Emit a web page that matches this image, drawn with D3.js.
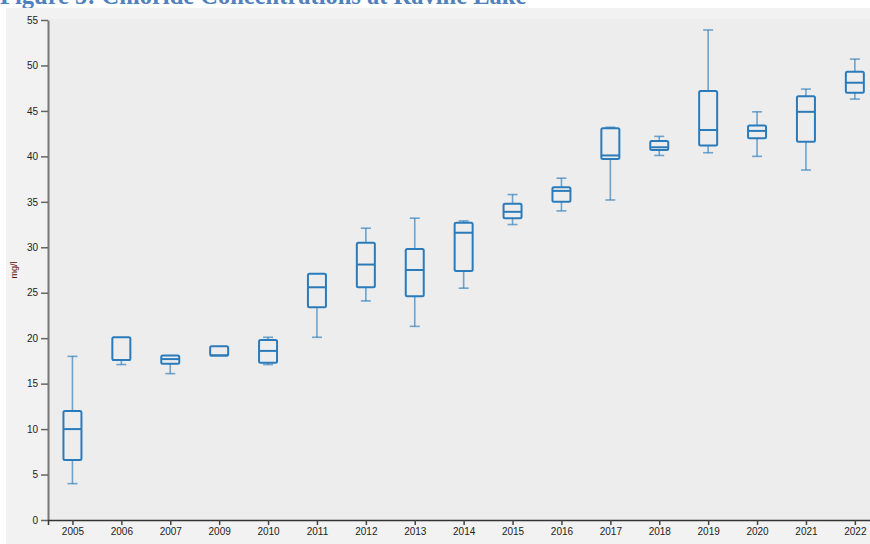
<!DOCTYPE html>
<html>
<head>
<meta charset="utf-8">
<script src="https://cdn.jsdelivr.net/npm/d3@7.9.0/dist/d3.min.js"></script>
<style>
  body { margin: 0; background: #fff; }
  svg { display: block; }
  .tick text { font-family: Arial, "Liberation Sans", sans-serif; font-size: 10px; fill: #222; }
</style>
</head>
<body>
<svg id="chart" width="870" height="544"></svg>
<script>
// Chloride box plot values (mg/l)
const years   = ['2005','2006','2007','2009','2010','2011','2012','2013','2014','2015','2016','2017','2018','2019','2020','2021','2022'];
const mins    = [4.0, 17.1, 16.1, 18.1, 17.1, 20.1, 24.1, 21.3, 25.5, 32.5, 34.0, 35.2, 40.1, 40.4, 40.0, 38.5, 46.3];
const q1s     = [6.6, 17.6, 17.2, 18.1, 17.3, 23.4, 25.6, 24.6, 27.4, 33.2, 35.0, 39.7, 40.7, 41.2, 42.0, 41.6, 47.0];
const medians = [10.0, 17.6, 17.7, 18.1, 18.6, 25.6, 28.1, 27.5, 31.6, 33.9, 36.2, 40.1, 41.0, 42.9, 42.8, 44.9, 48.1];
const q3s     = [12.0, 20.1, 18.1, 19.1, 19.8, 27.1, 30.5, 29.8, 32.7, 34.8, 36.6, 43.1, 41.7, 47.2, 43.4, 46.6, 49.3];
const maxs    = [18.0, 20.1, 18.1, 19.1, 20.1, 27.1, 32.1, 33.2, 32.9, 35.8, 37.6, 43.2, 42.2, 53.9, 44.9, 47.4, 50.7];
const yTicks  = d3.range(0, 56, 5);

const boxes = years.map((yr, i) => ({
  year: yr, min: mins[i], q1: q1s[i], med: medians[i], q3: q3s[i], max: maxs[i]
}));

const svg = d3.select('#chart');
const color = '#2b7bba';

// title (cut off at top in the original)
svg.append('text')
  .attr('x', 0)
  .attr('y', 4)
  .attr('font-family', '"Liberation Serif", "Times New Roman", serif')
  .attr('font-weight', 'bold')
  .attr('font-size', 24.5)
  .attr('fill', '#4f81bd')
  .text('Figure 5: Chloride Concentrations at Ravine Lake');

// outer panel + plot background
svg.append('rect').attr('x', 6).attr('y', 8).attr('width', 864).attr('height', 536).attr('fill', '#f2f2f2');

const margin = { left: 48, top: 20, bottom: 520 };
const x = d3.scalePoint().domain(years).range([48, 879.3]).padding(0.5);
const y = d3.scaleLinear().domain([0, 55]).range([margin.bottom, margin.top]);

svg.append('rect')
  .attr('x', 48).attr('y', 19)
  .attr('width', 870 - 48).attr('height', 520 - 19)
  .attr('fill', '#ededed');

// y axis
const yAxis = svg.append('g')
  .attr('transform', 'translate(48,0)')
  .call(d3.axisLeft(y).tickValues(yTicks).tickSize(7).tickSizeOuter(0).tickPadding(3));
yAxis.select('.domain').attr('stroke', '#777').attr('stroke-width', 2);
yAxis.selectAll('.tick line').attr('stroke', '#666').attr('stroke-width', 1.5);

// x axis
const xAxis = svg.append('g')
  .attr('transform', `translate(0,${margin.bottom})`)
  .call(d3.axisBottom(x).tickSize(5).tickSizeOuter(5).tickPadding(3));
xAxis.select('.domain').attr('stroke', '#333').attr('stroke-width', 1.5);
xAxis.selectAll('.tick line').attr('stroke', '#444').attr('stroke-width', 1.5);

// y label
svg.append('text')
  .attr('transform', 'translate(17,270) rotate(-90)')
  .attr('text-anchor', 'middle')
  .attr('font-family', 'Arial, "Liberation Sans", sans-serif')
  .attr('font-size', 9)
  .attr('fill', '#6a0a0a')
  .text('mg/l');

// boxes
const boxW = 18, capW = 10;
const g = svg.append('g').selectAll('g').data(boxes).join('g')
  .attr('transform', d => `translate(${x(d.year)},0)`);

// whiskers (lighter)
g.filter(d => d.max > d.q3).append('line')
  .attr('x1', 0).attr('x2', 0)
  .attr('y1', d => y(d.q3)).attr('y2', d => y(d.max));
g.filter(d => d.min < d.q1).append('line')
  .attr('x1', 0).attr('x2', 0)
  .attr('y1', d => y(d.q1)).attr('y2', d => y(d.min));
g.filter(d => d.max > d.q3).append('line')
  .attr('x1', -capW / 2).attr('x2', capW / 2)
  .attr('y1', d => y(d.max)).attr('y2', d => y(d.max));
g.filter(d => d.min < d.q1).append('line')
  .attr('x1', -capW / 2).attr('x2', capW / 2)
  .attr('y1', d => y(d.min)).attr('y2', d => y(d.min));
g.selectAll('line')
  .attr('stroke', color)
  .attr('stroke-opacity', 0.65)
  .attr('stroke-width', 1.6);

g.append('rect')
  .attr('x', -boxW / 2)
  .attr('width', boxW)
  .attr('y', d => y(d.q3))
  .attr('height', d => y(d.q1) - y(d.q3))
  .attr('rx', 1.5)
  .attr('fill', 'none')
  .attr('stroke', color)
  .attr('stroke-width', 2);

g.append('line')
  .attr('x1', -boxW / 2).attr('x2', boxW / 2)
  .attr('y1', d => y(d.med)).attr('y2', d => y(d.med))
  .attr('stroke', color)
  .attr('stroke-width', 2);
</script>
</body>
</html>
